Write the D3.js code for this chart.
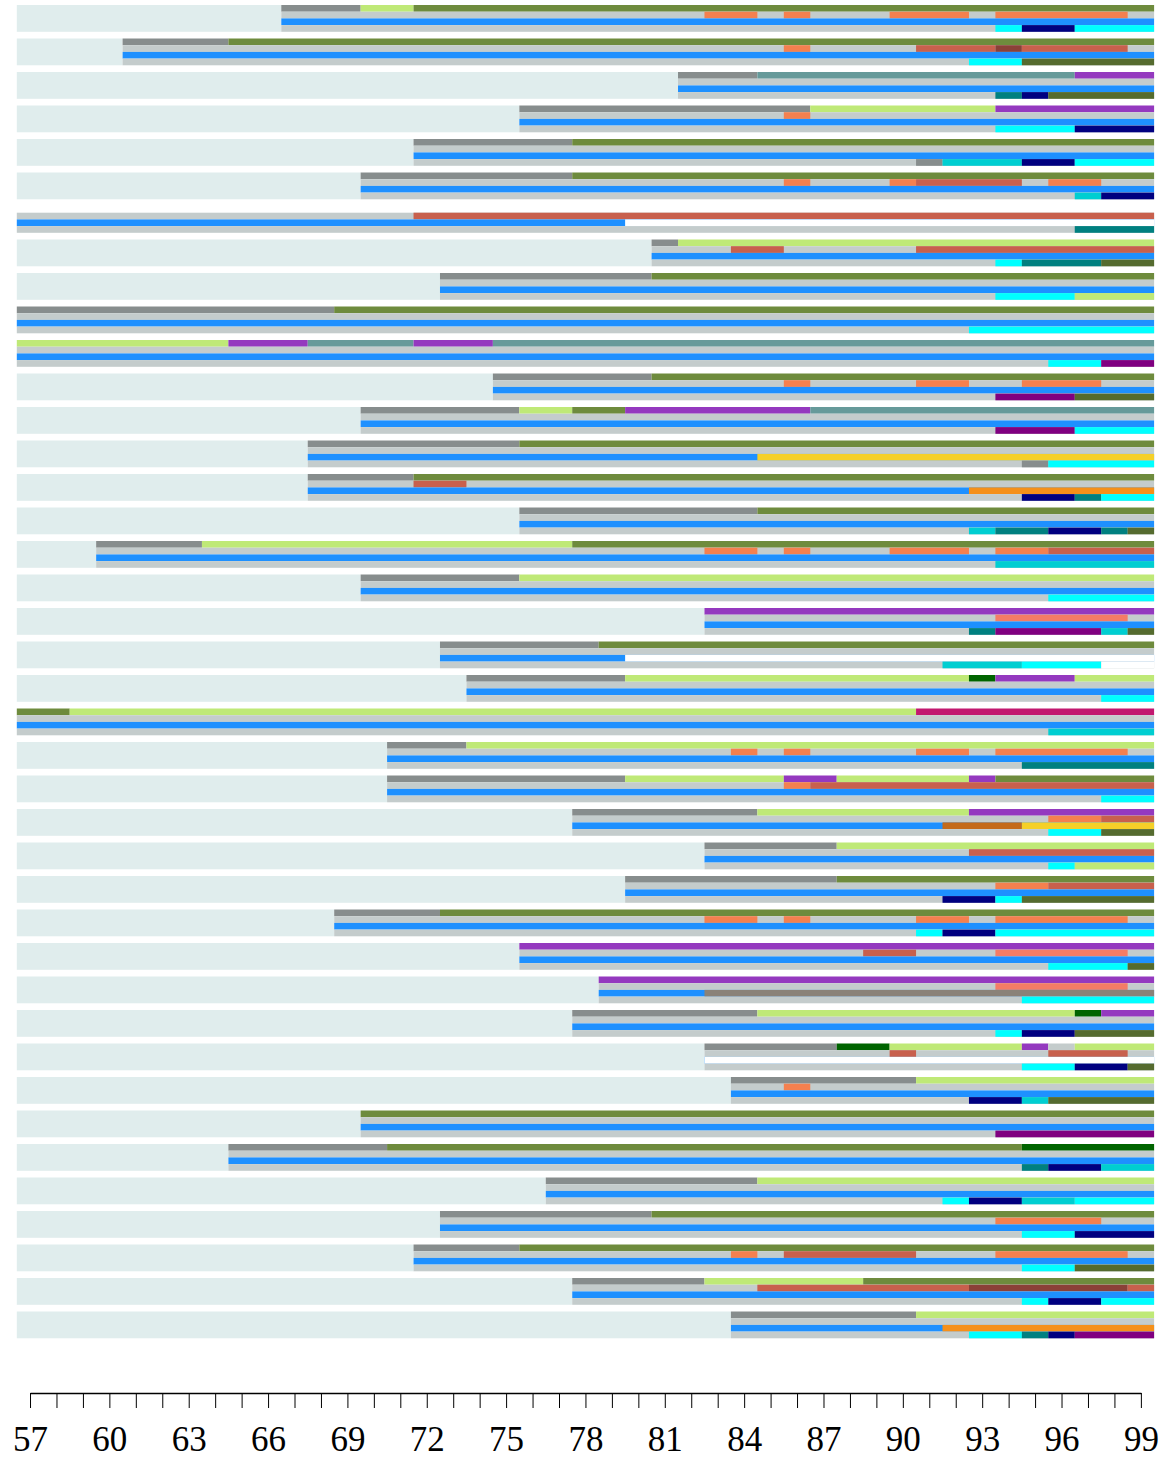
<!DOCTYPE html>
<html>
<head>
<meta charset="utf-8">
<script src="https://cdn.jsdelivr.net/npm/d3@7"></script>
<style>
body{margin:0;background:#fff;}
</style>
</head>
<body>
<div id="chart"></div>
<script>
// first value of each row
var rowStart=[67,61,82,76,72,70,57,81,73,57,57,75,70,68,68,76,60,70,83,73,74,57,71,71,78,83,80,69,76,79,78,83,84,70,65,77,73,72,78,84];

// top line, [from, to, colour key]
var track1=[
 [[67,69,"gy"],[70,71,"lg"],[72,99,"ol"]],
 [[61,64,"gy"],[65,99,"ol"]],
 [[82,84,"gy"],[85,96,"cb"],[97,99,"pu"]],
 [[76,86,"gy"],[87,93,"lg"],[94,99,"pu"]],
 [[72,77,"gy"],[78,99,"ol"]],
 [[70,77,"gy"],[78,99,"ol"]],
 [],
 [[81,81,"gy"],[82,99,"lg"]],
 [[73,80,"gy"],[81,99,"ol"]],
 [[57,68,"gy"],[69,99,"ol"]],
 [[57,64,"lg"],[65,67,"pu"],[68,71,"cb"],[72,74,"pu"],[75,99,"cb"]],
 [[75,80,"gy"],[81,99,"ol"]],
 [[70,75,"gy"],[76,77,"lg"],[78,79,"ol"],[80,86,"pu"],[87,99,"cb"]],
 [[68,75,"gy"],[76,99,"ol"]],
 [[68,71,"gy"],[72,99,"ol"]],
 [[76,84,"gy"],[85,99,"ol"]],
 [[60,63,"gy"],[64,77,"lg"],[78,99,"ol"]],
 [[70,75,"gy"],[76,99,"lg"]],
 [[83,99,"pu"]],
 [[73,78,"gy"],[79,99,"ol"]],
 [[74,79,"gy"],[80,92,"lg"],[93,93,"dg"],[94,96,"pu"],[97,99,"lg"]],
 [[57,58,"ol"],[59,90,"lg"],[91,99,"mv"]],
 [[71,73,"gy"],[74,99,"lg"]],
 [[71,79,"gy"],[80,85,"lg"],[86,87,"pu"],[88,92,"lg"],[93,93,"pu"],[94,99,"ol"]],
 [[78,84,"gy"],[85,92,"lg"],[93,99,"pu"]],
 [[83,87,"gy"],[88,99,"lg"]],
 [[80,87,"gy"],[88,99,"ol"]],
 [[69,72,"gy"],[73,99,"ol"]],
 [[76,99,"pu"]],
 [[79,99,"pu"]],
 [[78,84,"gy"],[85,96,"lg"],[97,97,"dg"],[98,99,"pu"]],
 [[83,87,"gy"],[88,89,"dg"],[90,94,"lg"],[95,95,"pu"],[96,96,"bs"],[97,99,"lg"]],
 [[84,90,"gy"],[91,99,"lg"]],
 [[70,99,"ol"]],
 [[65,70,"gy"],[71,94,"ol"],[95,99,"dg"]],
 [[77,84,"gy"],[85,99,"lg"]],
 [[73,80,"gy"],[81,99,"ol"]],
 [[72,75,"gy"],[76,99,"ol"]],
 [[78,82,"gy"],[83,88,"lg"],[89,99,"ol"]],
 [[84,90,"gy"],[91,99,"lg"]]
];

// second line, drawn over the grey base
var track2=[
 [[83,84,"or"],[86,86,"or"],[90,92,"or"],[94,98,"or"]],
 [[86,86,"or"],[91,93,"rd"],[94,94,"br"],[95,98,"rd"]],
 [],
 [[86,86,"or"]],
 [],
 [[86,86,"or"],[90,90,"or"],[91,94,"rd"],[96,97,"or"]],
 [[72,99,"rd"]],
 [[84,85,"rd"],[91,99,"rd"]],
 [],[],[],
 [[86,86,"or"],[91,92,"or"],[95,97,"or"]],
 [],[],
 [[72,73,"rd"]],
 [],
 [[83,84,"or"],[86,86,"or"],[90,92,"or"],[94,95,"or"],[96,99,"rd"]],
 [],
 [[94,98,"sa"]],
 [],[],[],
 [[84,84,"or"],[86,86,"or"],[91,92,"or"],[94,98,"or"]],
 [[86,86,"or"],[87,99,"rd"]],
 [[96,97,"or"],[98,99,"rd"]],
 [[93,99,"rd"]],
 [[94,95,"or"],[96,99,"rd"]],
 [[83,84,"or"],[86,86,"or"],[91,92,"or"],[94,98,"or"]],
 [[89,90,"rd"],[94,98,"sa"]],
 [[94,98,"sa"]],
 [],
 [[90,90,"rd"],[96,98,"rd"]],
 [[86,86,"or"]],
 [],[],[],
 [[94,97,"or"]],
 [[84,84,"or"],[86,90,"rd"],[94,98,"or"]],
 [[85,92,"rd"],[93,98,"br"],[99,99,"rd"]],
 []
];

// third line, drawn over the blue base
var track3=[
 [],[],[],[],[],[],
 [[80,99,"wh"]],
 [],[],[],[],[],[],
 [[85,99,"gd"]],
 [[93,99,"dor"]],
 [],[],[],[],
 [[80,99,"wh"]],
 [],[],[],[],
 [[92,94,"ch"],[95,99,"gd"]],
 [],[],[],[],
 [[83,99,"gb"]],
 [],
 [[83,99,"wh"]],
 [],[],[],[],[],[],[],
 [[92,99,"dor"]]
];

// bottom line, drawn over the grey base
var track4=[
 [[94,94,"cy"],[95,96,"nv"],[97,99,"cy"]],
 [[93,94,"cy"],[95,99,"do"]],
 [[94,94,"tl"],[95,95,"nv"],[96,99,"do"]],
 [[94,96,"cy"],[97,99,"nv"]],
 [[91,91,"gy"],[92,94,"dt"],[95,96,"nv"],[97,99,"cy"]],
 [[97,97,"dt"],[98,99,"nv"]],
 [[97,99,"tl"]],
 [[94,94,"cy"],[95,97,"tl"],[98,99,"do"]],
 [[94,96,"cy"],[97,99,"lg"]],
 [[93,99,"cy"]],
 [[96,97,"cy"],[98,99,"dp"]],
 [[94,96,"dp"],[97,99,"do"]],
 [[94,96,"dp"],[97,99,"cy"]],
 [[95,95,"gy"],[96,99,"cy"]],
 [[95,96,"nv"],[97,97,"tl"],[98,99,"cy"]],
 [[93,93,"dt"],[94,95,"tl"],[96,97,"nv"],[98,98,"tl"],[99,99,"do"]],
 [[94,99,"dt"]],
 [[96,99,"cy"]],
 [[93,93,"tl"],[94,97,"dp"],[98,98,"dt"],[99,99,"do"]],
 [[92,94,"dt"],[95,97,"cy"],[98,99,"wh"]],
 [[98,99,"cy"]],
 [[96,99,"dt"]],
 [[95,99,"tl"]],
 [[98,99,"cy"]],
 [[96,97,"cy"],[98,99,"do"]],
 [[96,96,"cy"],[97,99,"lg"]],
 [[92,93,"nv"],[94,94,"cy"],[95,99,"do"]],
 [[91,91,"cy"],[92,93,"nv"],[94,99,"cy"]],
 [[96,98,"cy"],[99,99,"do"]],
 [[95,99,"cy"]],
 [[94,94,"cy"],[95,96,"nv"],[97,99,"do"]],
 [[95,96,"cy"],[97,98,"nv"],[99,99,"do"]],
 [[93,94,"nv"],[95,95,"dt"],[96,99,"do"]],
 [[94,99,"dp"]],
 [[95,95,"tl"],[96,97,"nv"],[98,99,"dt"]],
 [[92,92,"cy"],[93,94,"nv"],[95,96,"dt"],[97,99,"cy"]],
 [[95,96,"cy"],[97,99,"nv"]],
 [[95,96,"cy"],[97,99,"do"]],
 [[95,95,"cy"],[96,97,"nv"],[98,99,"cy"]],
 [[93,94,"cy"],[95,95,"tl"],[96,96,"nv"],[97,99,"dp"]]
];

var tickVals=d3.range(57,100);
var lastVal=99;

var colorKeys=["gy","ol","lg","pu","cb","or","sa","rd","br","cy","nv","do","tl","dt","dp","gd","dor","ch","dg","mv","gb","bs","bl","wh"];
var colorVals=["#878d8d","#6e8b3d","#bfe977","#9439bf","#669a9a","#f4804f","#f47c66","#c8604d","#8b4038","#00ffff","#000080","#556b2f","#008080","#00ced1","#800080","#f5d028","#f5901a","#c46a1a","#006400","#c2186f","#8a8278","#c4cccc","#1e90ff","#ffffff"];
var color=d3.scaleOrdinal().domain(colorKeys).range(colorVals);

var width=1170, height=1459;
var svg=d3.select("#chart").append("svg")
  .attr("width",width)
  .attr("height",height);

var x=d3.scaleLinear().domain([56.5,99.5]).range([16.8,1154.1]);
var rowIdx=d3.range(rowStart.length);
var y=d3.scaleBand().domain(rowIdx).range([5,1338.3]).paddingInner(0.2).paddingOuter(0);
var ty=d3.scaleBand().domain([0,1,2,3]).range([0,y.bandwidth()]);

var tracks=[track1,track2,track3,track4];
var baseKey=[null,"bs","bl","bs"];

for(var r=0;r<rowStart.length;r++){
  var g=svg.append("g").attr("transform","translate(0,"+y(r)+")");
  var s=rowStart[r];
  // light background before the row starts
  if(s>57){
    g.append("rect")
      .attr("x",x(56.5))
      .attr("y",0)
      .attr("width",x(s-0.5)-x(56.5))
      .attr("height",y.bandwidth())
      .style("fill","#e0eded");
  }
  for(var t=0;t<4;t++){
    var segs=tracks[t][r].slice();
    if(baseKey[t]) segs.unshift([s,lastVal,baseKey[t]]);
    g.selectAll(null)
      .data(segs)
      .enter()
      .append("rect")
      .attr("x",function(d){ return x(d[0]-0.5); })
      .attr("y",ty(t))
      .attr("width",function(d){ return x(d[1]+0.5)-x(d[0]-0.5); })
      .attr("height",ty.bandwidth())
      .style("fill",function(d){ return color(d[2]); });
  }
}

var xAxisScale=x.copy().domain([57,99]).range([x(57),x(99)]);
var axis=d3.axisBottom(xAxisScale)
  .tickValues(tickVals)
  .tickSize(15)
  .tickSizeOuter(0)
  .tickPadding(18)
  .tickFormat(function(d){ return (d-57)%3===0 ? d : ""; });

var ax=svg.append("g")
  .attr("transform","translate(0,1393)")
  .call(axis);
ax.select(".domain").style("stroke","#000").style("stroke-width",1.5);
ax.selectAll(".tick line").style("stroke","#000").style("stroke-width",1);
ax.selectAll("text")
  .style("font-family","'Liberation Serif','Times New Roman',serif")
  .style("font-size","35px")
  .style("fill","#000");
</script>
</body>
</html>
